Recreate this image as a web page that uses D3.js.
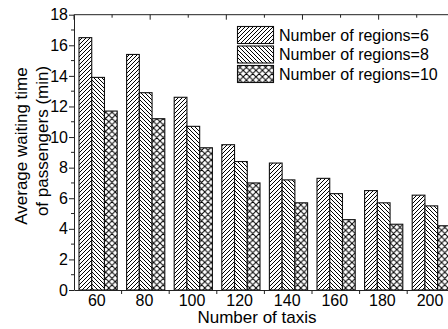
<!DOCTYPE html>
<html>
<head>
<meta charset="utf-8">
<script src="https://cdn.jsdelivr.net/npm/d3@7/dist/d3.min.js"></script>
<style>
  html, body { margin: 0; padding: 0; background: #fff; }
  svg { display: block; font-family: "Liberation Sans", Arial, sans-serif; }
</style>
</head>
<body>
<svg id="chart" width="448" height="329"></svg>
<script>
// Number of taxis on the horizontal axis
const taxis = [60, 80, 100, 120, 140, 160, 180, 200];
// Average waiting time (min) for each region count
const regions6  = [16.5, 15.4, 12.6, 9.5, 8.3, 7.3, 6.5, 6.2];
const regions8  = [13.9, 12.9, 10.7, 8.4, 7.2, 6.3, 5.7, 5.5];
const regions10 = [11.7, 11.2, 9.3, 7.0, 5.7, 4.6, 4.3, 4.2];
const seriesNames = ["Number of regions=6", "Number of regions=8", "Number of regions=10"];
const yTicks = [0, 2, 4, 6, 8, 10, 12, 14, 16, 18];

const series = [regions6, regions8, regions10];
const svg = d3.select("#chart");

const plotLeft = 74, plotTop = 14.7, plotBottom = 290;
const step = 47.6;
const plotRight = plotLeft + step * taxis.length;

const x = d3.scaleBand().domain(taxis).range([plotLeft, plotRight]).padding(0);
const inner = d3.scaleBand().domain(d3.range(series.length)).range([5, 43.2]).padding(0);
const y = d3.scaleLinear().domain([0, 18]).range([plotBottom, plotTop]);

// hatch patterns
const defs = svg.append("defs");
function pattern(id, size, d) {
  const p = defs.append("pattern").attr("id", id)
    .attr("patternUnits", "userSpaceOnUse")
    .attr("width", size).attr("height", size);
  p.append("rect").attr("width", size).attr("height", size).attr("fill", "#fff");
  p.append("path").attr("d", d).attr("stroke", "#000").attr("stroke-width", 1).attr("fill", "none");
}
pattern("hatchFwd", 4, "M-1,1 l2,-2 M0,4 l4,-4 M3,5 l2,-2");
pattern("hatchBack", 4, "M-1,3 l2,2 M0,0 l4,4 M3,-1 l2,2");
pattern("hatchCross", 6.4, "M0,0 L6.4,6.4 M0,6.4 L6.4,0 M-1,1 l2,-2 M5.4,7.4 l2,-2 M-1,5.4 l2,2 M5.4,-1 l2,2");
const fills = ["url(#hatchFwd)", "url(#hatchBack)", "url(#hatchCross)"];

// bars
series.forEach((vals, si) => {
  svg.append("g").selectAll("rect")
    .data(vals)
    .join("rect")
    .attr("x", (d, i) => x(taxis[i]) + inner(si))
    .attr("y", d => y(d))
    .attr("width", inner.bandwidth())
    .attr("height", d => y(0) - y(d))
    .attr("fill", fills[si])
    .attr("stroke", "#111")
    .attr("stroke-width", 1.1);
});

const axisColor = "#222";

// left axis
const yAxis = svg.append("g").attr("transform", `translate(${plotLeft},0)`)
  .call(d3.axisLeft(y).tickValues(yTicks).tickSize(5).tickPadding(1).tickSizeOuter(0));
yAxis.append("g").selectAll("line")
  .data(d3.range(1, 18, 2))
  .join("line")
  .attr("x1", -3).attr("x2", 0)
  .attr("y1", d => y(d)).attr("y2", d => y(d))
  .attr("stroke", axisColor);

// bottom axis: labels at category centres, ticks on group boundaries
const xAxis = svg.append("g").attr("transform", `translate(0,${plotBottom})`)
  .call(d3.axisBottom(x).tickSize(0).tickPadding(5).tickSizeOuter(0));
xAxis.selectAll(".tick").attr("transform", d => `translate(${x(d) + x.bandwidth() / 2 - 1},0)`);
xAxis.append("g").selectAll("line")
  .data(taxis)
  .join("line")
  .attr("x1", d => x(d) + x.step()).attr("x2", d => x(d) + x.step())
  .attr("y1", 0).attr("y2", 4)
  .attr("stroke", axisColor);

// top axis, ticks pointing inwards
const xTop = d3.scaleLinear().domain([0, 5]).range([plotLeft, plotRight]);
const topAxis = svg.append("g").attr("transform", `translate(0,${plotTop})`);
topAxis.append("line").attr("x1", plotLeft).attr("x2", plotRight)
  .attr("y1", 0).attr("y2", 0).attr("stroke", axisColor);
topAxis.selectAll("line.tick")
  .data(d3.range(0, 5.01, 0.5))
  .join("line").attr("class", "tick")
  .attr("x1", d => xTop(d)).attr("x2", d => xTop(d))
  .attr("y1", 0).attr("y2", d => Number.isInteger(d) ? 5 : 3)
  .attr("stroke", axisColor);

svg.selectAll(".domain").attr("stroke", axisColor);
svg.selectAll(".tick line").attr("stroke", axisColor);
svg.selectAll(".tick text").attr("font-size", 16).attr("fill", "#000")
  .attr("font-family", "Liberation Sans, Arial, sans-serif");

// axis titles
svg.append("text")
  .attr("x", 257).attr("y", 323)
  .attr("text-anchor", "middle").attr("font-size", 17)
  .text("Number of taxis");
svg.append("text")
  .attr("transform", "translate(27,146) rotate(-90)")
  .attr("text-anchor", "middle").attr("font-size", 17)
  .text("Average waiting time");
svg.append("text")
  .attr("transform", "translate(48,141) rotate(-90)")
  .attr("text-anchor", "middle").attr("font-size", 17)
  .text("of passengers (min)");

// legend
const legend = svg.append("g");
const rowY = [26, 45.5, 65];
seriesNames.forEach((name, i) => {
  legend.append("rect")
    .attr("x", 237.5).attr("y", rowY[i] + 0.5)
    .attr("width", 36).attr("height", 17)
    .attr("fill", fills[i]).attr("stroke", "#111").attr("stroke-width", 1.1);
  legend.append("text")
    .attr("x", 279).attr("y", rowY[i] + 14.5)
    .attr("font-size", 16)
    .text(name);
});
</script>
</body>
</html>
